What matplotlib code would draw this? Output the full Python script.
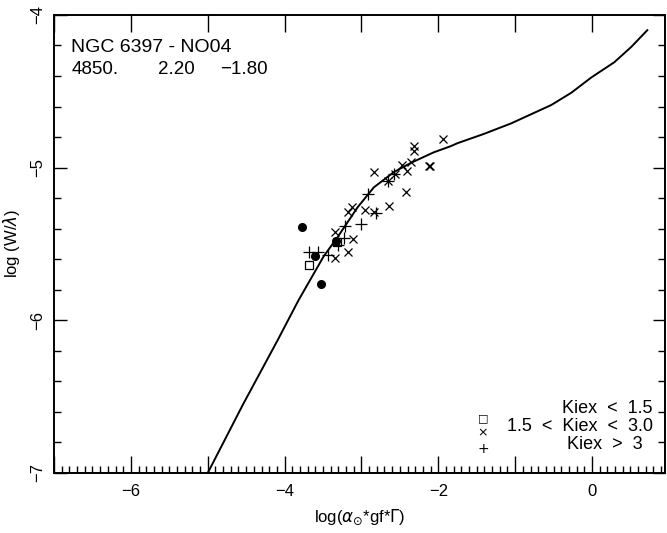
import matplotlib
matplotlib.use("Agg")
import matplotlib.pyplot as plt
from matplotlib.ticker import MultipleLocator, FuncFormatter

plt.rcParams["font.family"] = ["Liberation Sans", "DejaVu Sans"]
plt.rcParams["mathtext.fontset"] = "dejavusans"

# curve of growth
curve_x = [-5.00, -4.54, -4.09, -3.82, -3.49, -3.31, -3.21, -3.05, -2.84, -2.58,
           -2.36, -2.06, -1.84, -1.75, -1.41, -1.05, -0.79, -0.53, -0.27, -0.01,
           0.29, 0.51, 0.72]
curve_y = [-7.00, -6.55, -6.13, -5.87, -5.58, -5.455, -5.38, -5.26, -5.13, -5.03,
           -4.97, -4.90, -4.86, -4.84, -4.78, -4.71, -4.65, -4.59, -4.51, -4.41,
           -4.31, -4.21, -4.10]

# Kiex < 1.5 (open squares)
low_x = [-3.68, -3.32]
low_y = [-5.64, -5.49]

# 1.5 < Kiex < 3.0 (crosses)
mid_x = [-1.94, -2.31, -2.32, -2.84, -2.47, -2.35, -2.12, -2.11, -2.41, -2.56,
         -2.66, -2.42, -2.64, -2.84, -2.95, -3.12, -3.18, -3.34, -3.11, -3.18,
         -3.34]
mid_y = [-4.81, -4.86, -4.89, -5.03, -4.98, -4.96, -4.99, -4.99, -5.02, -5.04,
         -5.09, -5.16, -5.25, -5.29, -5.28, -5.26, -5.29, -5.42, -5.47, -5.55,
         -5.59]

# Kiex > 3 (plus)
high_x = [-2.92, -2.81, -3.00, -3.21, -3.23, -3.30, -3.44, -3.57, -3.68, -2.57,
          -2.66]
high_y = [-5.17, -5.30, -5.37, -5.38, -5.46, -5.51, -5.57, -5.55, -5.55, -5.04,
          -5.09]

# filled dots
dot_x = [-3.77, -3.61, -3.53, -3.33]
dot_y = [-5.39, -5.58, -5.76, -5.48]

fig = plt.figure(figsize=(6.67, 5.33), dpi=100)
ax = fig.add_axes([0.081, 0.1126, 0.916, 0.8594])

ax.plot(curve_x, curve_y, color="black", lw=1.4)
ax.plot(low_x, low_y, ls="none", marker="s", ms=5.5, mfc="white", mec="black", mew=0.9)
ax.plot(dot_x, dot_y, ls="none", marker="o", ms=5.5, color="black")
ax.plot(mid_x, mid_y, ls="none", marker="x", ms=6, color="black", mew=0.9)
ax.plot(high_x, high_y, ls="none", marker="+", ms=8, color="black", mew=0.9)

ax.set_xlim(-7, 0.95)
ax.set_ylim(-7, -4)

ax.xaxis.set_major_locator(MultipleLocator(1))
ax.xaxis.set_minor_locator(MultipleLocator(0.1))
ax.yaxis.set_major_locator(MultipleLocator(1))
ax.yaxis.set_minor_locator(MultipleLocator(0.2))
ax.xaxis.set_major_formatter(FuncFormatter(
    lambda v, p: f"{int(round(v))}".replace("-", "\u2212") if round(v) % 2 == 0 else ""))
ax.yaxis.set_major_formatter(FuncFormatter(
    lambda v, p: f"{int(round(v))}".replace("-", "\u2212")))

ax.tick_params(which="both", direction="in", top=True, right=True, width=1,
               labelsize=12, colors="black")
ax.tick_params(axis="x", which="major", length=12, pad=8)
ax.tick_params(axis="x", which="minor", length=5, top=False)
ax.tick_params(axis="y", which="major", length=9, pad=6)
ax.tick_params(axis="y", which="minor", length=5)
for lab in ax.get_yticklabels():
    lab.set_rotation(90)
    lab.set_va("center")

for sp in ax.spines.values():
    sp.set_linewidth(1.4)

ax.set_xlabel(r"log($\alpha_{\odot}$*gf*$\Gamma$)", fontsize=12, labelpad=6)
ax.set_ylabel(r"log (W/$\lambda$)", fontsize=12, labelpad=6)

ax.text(0.028, 0.928, "NGC 6397 - NO04", transform=ax.transAxes,
        fontsize=14, va="center", ha="left")
ax.text(0.028, 0.880, "4850.", transform=ax.transAxes, fontsize=13.5, va="center")
ax.text(0.170, 0.880, "2.20", transform=ax.transAxes, fontsize=13.5, va="center")
ax.text(0.272, 0.880, "\u22121.80", transform=ax.transAxes, fontsize=13.5, va="center")

leg_kw = dict(transform=ax.transAxes, fontsize=13, va="center")
ax.text(0.980, 0.140, "Kiex  <  1.5", ha="right", **leg_kw)
ax.text(0.980, 0.101, "1.5  <  Kiex  <  3.0", ha="right", **leg_kw)
ax.text(0.964, 0.062, "Kiex  >  3", ha="right", **leg_kw)
sym_kw = dict(transform=ax.transAxes, va="center", ha="center",
              family="DejaVu Sans")
ax.text(0.702, 0.120, "\u25a1", fontsize=8, **sym_kw)
ax.text(0.702, 0.087, "\u00d7", fontsize=9, **sym_kw)
ax.text(0.702, 0.052, "+", fontsize=10, **sym_kw)

fig.savefig("out.png", dpi=100)
